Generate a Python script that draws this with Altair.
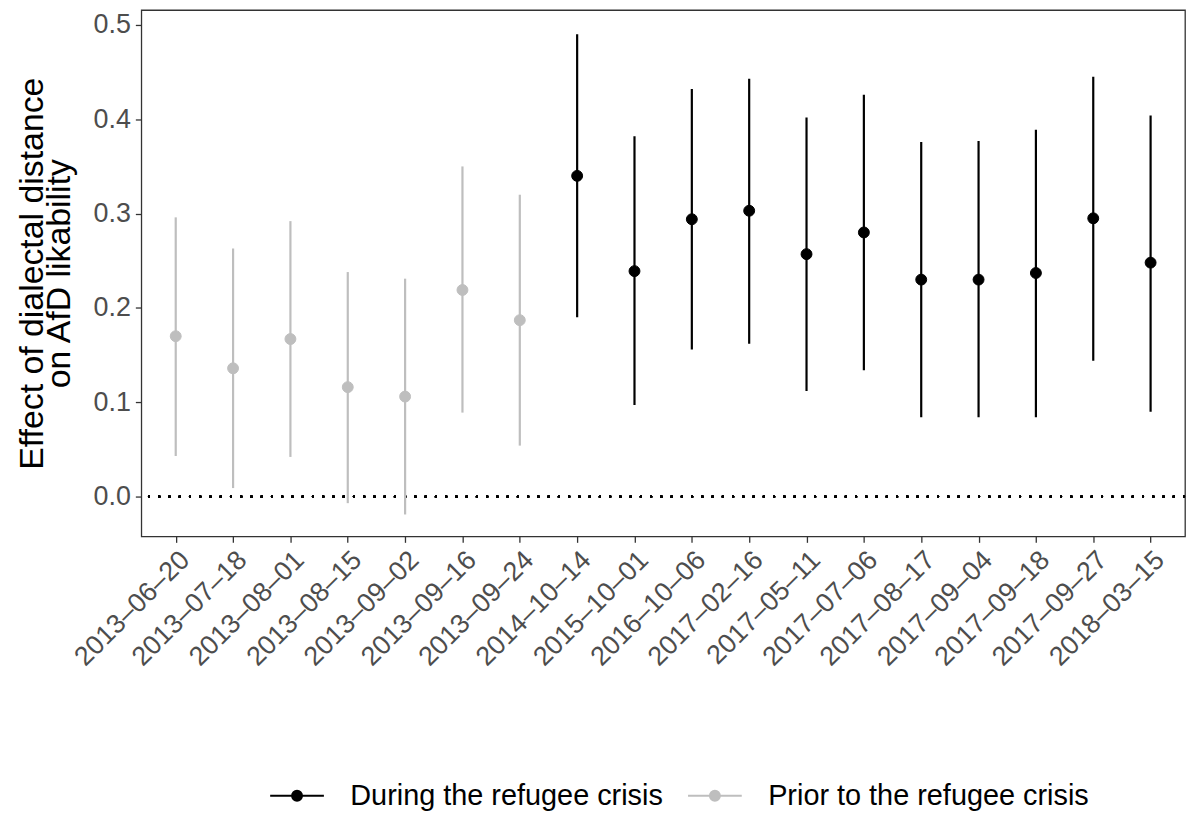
import altair as alt
import pandas as pd

dates = ["2013-06-20", "2013-07-18", "2013-08-01", "2013-08-15", "2013-09-02",
         "2013-09-16", "2013-09-24", "2014-10-14", "2015-10-01", "2016-10-06",
         "2017-02-16", "2017-05-11", "2017-07-06", "2017-08-17", "2017-09-04",
         "2017-09-18", "2017-09-27", "2018-03-15"]
estimate = [0.170, 0.136, 0.167, 0.116, 0.106, 0.219, 0.187, 0.340, 0.239, 0.294,
            0.303, 0.257, 0.280, 0.230, 0.230, 0.237, 0.295, 0.248]
lower = [0.043, 0.009, 0.042, -0.007, -0.019, 0.089, 0.054, 0.190, 0.097, 0.156,
         0.162, 0.112, 0.134, 0.084, 0.084, 0.084, 0.144, 0.090]
upper = [0.296, 0.263, 0.292, 0.238, 0.231, 0.350, 0.320, 0.490, 0.382, 0.432,
         0.443, 0.402, 0.426, 0.376, 0.377, 0.389, 0.445, 0.404]
period = ["Prior to the refugee crisis"] * 7 + ["During the refugee crisis"] * 11

groups = ["During the refugee crisis", "Prior to the refugee crisis"]
colors = ["#000000", "#BEBEBE"]

df = pd.DataFrame({"date": dates, "est": estimate, "lo": lower, "hi": upper, "period": period})

FONT = "Liberation Sans"

x_enc = alt.X("date:N", sort=dates, title=None,
              scale=alt.Scale(type="point", padding=0.6),
              axis=alt.Axis(labelAngle=-45, labelFontSize=27, labelColor="#4D4D4D",
                            labelFont=FONT, tickColor="#333333", tickSize=6,
                            tickWidth=1.3, domain=False, labelPadding=4,
                            labelExpr="join(split(datum.label, '-'), '–')"))
y_scale = alt.Scale(domain=[-0.0422, 0.5158], nice=False, zero=False)
y_axis = alt.Axis(values=[0, 0.1, 0.2, 0.3, 0.4, 0.5], format=".1f", labelFontSize=27,
                  labelColor="#4D4D4D", labelFont=FONT, tickColor="#333333", tickSize=6,
                  tickWidth=1.3, domain=False, grid=False, labelPadding=5,
                  title=["Effect of dialectal distance", "on AfD likability"],
                  titleFontSize=34, titleFont=FONT, titleFontWeight="normal",
                  titleColor="#000000", titleLineHeight=27, titlePadding=17)

legend = alt.Legend(
    orient="none", direction="horizontal",
    legendX=142, legendY=775,
    symbolType="M-2.7,0L2.7,0M0.5,0A0.5,0.5,0,1,1,-0.5,0A0.5,0.5,0,1,1,0.5,0Z",
    symbolSize=400, symbolStrokeWidth=2, symbolOpacity=1,
    labelFontSize=29, labelFont=FONT, labelColor="#000000",
    labelOffset=39, columnPadding=20, padding=0,
    labelLimit=500)

stroke_enc = alt.Stroke("period:N", title=None,
                        scale=alt.Scale(domain=groups, range=colors), legend=legend)
fill_enc = alt.Fill("period:N", title=None,
                    scale=alt.Scale(domain=groups, range=colors), legend=legend)

zero = alt.Chart(df).mark_rule(color="black", strokeDash=[2, 8.3], strokeWidth=1.8).encode(
    y=alt.datum(0, scale=y_scale, axis=y_axis)
)

rules = alt.Chart(df).mark_rule(strokeWidth=2.2).encode(
    x=x_enc,
    y=alt.Y("lo:Q", scale=y_scale, axis=y_axis),
    y2="hi:Q",
    stroke=stroke_enc,
)

points = alt.Chart(df).mark_point(filled=True, size=120, opacity=1, strokeWidth=1).encode(
    x=x_enc,
    y=alt.Y("est:Q", scale=y_scale, axis=y_axis),
    fill=fill_enc,
    stroke=stroke_enc,
)

chart = alt.layer(zero, rules, points).properties(
    width=1049, height=529, background="white",
    padding={"left": 7, "top": 0, "right": 0, "bottom": 0},
).configure_view(
    stroke="#333333", strokeWidth=1.3
)

chart.save("out.html", embed_options={"renderer": "svg", "actions": False})
